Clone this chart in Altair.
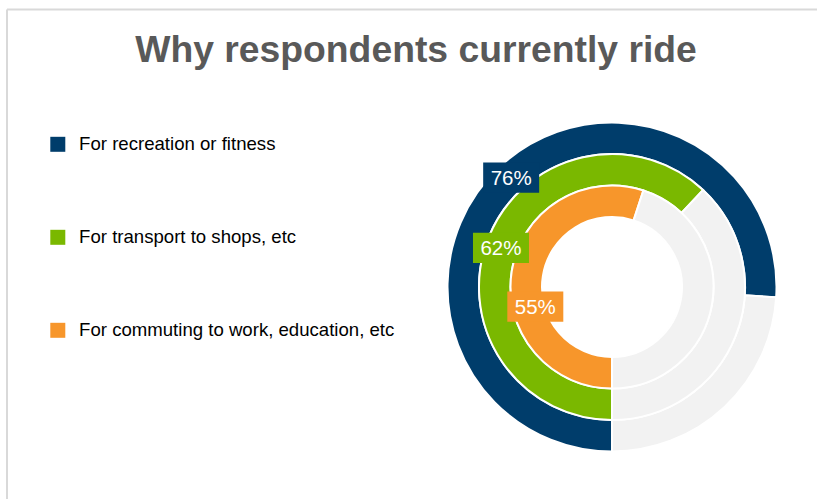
import math
import altair as alt
import pandas as pd

# ---------------- data ----------------
TITLE = "Why respondents currently ride"
CATEGORIES = [
    "For recreation or fitness",
    "For transport to shops, etc",
    "For commuting to work, education, etc",
]
VALUES = [76, 62, 55]
COLORS = ["#003D6B", "#7AB800", "#F7962B"]
REST_COLOR = "#F2F2F2"

# ---------------- layout / style ----------------
W, H = 817, 499
CX, CY = 612, 287
OUTER = [164.5, 133, 101.5]
INNER = [133, 101.5, 70]
LABEL_SHIFT = [(1, -1), (-2, 4), (8, 33)]
FONT = "Liberation Sans"

rows = []
for i, (c, v) in enumerate(zip(CATEGORIES, VALUES)):
    rows.append({"cat": c, "key": c, "ring": i, "start": 0, "end": v})
    rows.append({"cat": c, "key": "rest", "ring": i, "start": v, "end": 100})
arc_df = pd.DataFrame(rows)
lab_df = pd.DataFrame({"cat": CATEGORIES, "value": VALUES, "ring": list(range(len(VALUES)))})

theta_scale = alt.Scale(domain=[0, 100], range=[math.pi, 3 * math.pi])
outer_expr = "[" + ",".join(str(r) for r in OUTER) + "][datum.ring]"
inner_expr = "[" + ",".join(str(r) for r in INNER) + "][datum.ring]"

arcs = (
    alt.Chart(arc_df)
    .transform_calculate(r_out=outer_expr, r_in=inner_expr)
    .mark_arc(stroke="white", strokeWidth=2)
    .encode(
        theta=alt.Theta("start:Q", stack=None, scale=theta_scale),
        theta2="end:Q",
        radius=alt.Radius("r_out:Q", scale=None),
        radius2="r_in:Q",
        x=alt.value(CX),
        y=alt.value(CY),
        color=alt.Color(
            "key:N",
            scale=alt.Scale(domain=CATEGORIES + ["rest"], range=COLORS + [REST_COLOR]),
            legend=alt.Legend(
                values=CATEGORIES,
                title=None,
                orient="none",
                legendX=48.5,
                legendY=135,
                direction="vertical",
                symbolType="square",
                symbolSize=225,
                symbolStrokeWidth=0,
                symbolOpacity=1,
                labelFont=FONT,
                labelFontSize=18.6,
                labelColor="#000000",
                labelOffset=12,
                labelLimit=500,
                rowPadding=74,
            ),
        ),
    )
)

label_base = alt.Chart(lab_df).transform_calculate(
    r_mid=f"({outer_expr} + {inner_expr}) / 2",
    ang="PI + 2 * PI * (datum.value / 2) / 100",
).transform_calculate(
    lx=f"{CX} + datum.r_mid * sin(datum.ang)",
    ly=f"{CY} - datum.r_mid * cos(datum.ang)",
    txt="datum.value + '%'",
)

label_layers = []
for i, c in enumerate(CATEGORIES):
    dx, dy = LABEL_SHIFT[i]
    b = label_base.transform_filter(alt.datum.cat == c)
    box = b.mark_point(
        shape="M-1,-0.54H1V0.54H-1Z", size=3136, filled=True, opacity=1,
        strokeWidth=0, xOffset=dx, yOffset=dy,
    ).encode(
        x=alt.X("lx:Q", scale=None),
        y=alt.Y("ly:Q", scale=None),
        fill=alt.Fill("cat:N", scale=alt.Scale(domain=CATEGORIES, range=COLORS), legend=None),
    )
    txt = b.mark_text(
        font=FONT, fontSize=20.5, color="white", align="center", baseline="middle",
        xOffset=dx, yOffset=dy + 1,
    ).encode(
        x=alt.X("lx:Q", scale=None),
        y=alt.Y("ly:Q", scale=None),
        text="txt:N",
    )
    label_layers += [box, txt]

title = alt.Chart(pd.DataFrame({"t": [TITLE]})).mark_text(
    font=FONT, fontSize=37.3, fontWeight="bold", color="#595959",
    align="center", baseline="alphabetic",
).encode(x=alt.value(416), y=alt.value(62), text="t:N")

dummy = pd.DataFrame({"a": [0]})
border_top = alt.Chart(dummy).mark_rule(color="#D9D9D9", strokeWidth=2).encode(
    x=alt.value(7), x2=alt.value(W), y=alt.value(9.5)
)
border_left = alt.Chart(dummy).mark_rule(color="#D9D9D9", strokeWidth=2).encode(
    x=alt.value(7), y=alt.value(9.5), y2=alt.value(H)
)

chart = (
    alt.layer(border_top, border_left, arcs, *label_layers, title)
    .properties(width=W, height=H, autosize=alt.AutoSizeParams(type="none"), padding=0,
                background="white")
    .configure_view(stroke=None)
)

chart.save("out.html", embed_options={"renderer": "svg", "actions": False})
